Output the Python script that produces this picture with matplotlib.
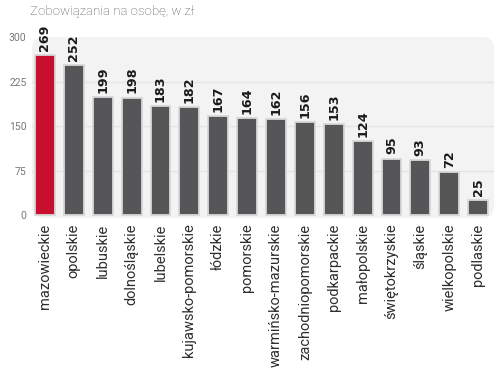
import matplotlib
matplotlib.use("Agg")
import matplotlib.pyplot as plt
from matplotlib.patches import FancyBboxPatch

categories = ["mazowieckie", "opolskie", "lubuskie", "dolnośląskie", "lubelskie",
              "kujawsko-pomorskie", "łódzkie", "pomorskie", "warmińsko-mazurskie",
              "zachodniopomorskie", "podkarpackie", "małopolskie", "świętokrzyskie",
              "śląskie", "wielkopolskie", "podlaskie"]
values = [269, 252, 199, 198, 183, 182, 167, 164, 162, 156, 153, 124, 95, 93, 72, 25]
yticks = [0, 75, 150, 225, 300]
title = "Zobowiązania na osobę, w zł"

W, H = 503, 370
fig = plt.figure(figsize=(W/100, H/100), dpi=100)
L, R, B, T = 32, 494, 218, 37
ax = fig.add_axes([L/W, 1-B/H, (R-L)/W, (B-T)/H])
ax.set_xlim(-0.45, len(values)-0.45)
ax.set_ylim(-5, 300)
ax.patch.set_visible(False)
bg = FancyBboxPatch((0, 0), 1, 1, boxstyle="round,pad=0,rounding_size=0.025",
                    transform=ax.transAxes, facecolor="#f3f3f3", edgecolor="none", zorder=0,
                    mutation_aspect=(R-L)/(B-T))
ax.add_patch(bg)
for y in yticks[1:-1]:
    ax.axhline(y, color="#e4e4e4", lw=1, zorder=1)

colors = ["#c8102e"] + ["#565659"]*(len(values)-1)
x = list(range(len(values)))
ax.bar(x, values, width=0.69, color=colors, edgecolor="#d8d8d8", linewidth=1.3, zorder=2)
for xi, v in zip(x, values):
    ax.annotate(str(v), (xi, v), xytext=(0, 3), textcoords="offset points",
                rotation=90, ha="center", va="bottom", fontsize=9.2, fontweight="bold",
                color="#1a1a1a", clip_on=False, zorder=3)

for s in ax.spines.values():
    s.set_visible(False)
ax.set_yticks(yticks)
ax.set_yticklabels([str(t) for t in yticks], fontsize=7.5, color="#777777",
                   family="Roboto")
ax.tick_params(axis="y", length=0, pad=4)
ax.set_xticks(x)
ax.set_xticklabels(categories, rotation=90, fontsize=10.5, color="#2e2e2e",
                   family="Roboto")
ax.tick_params(axis="x", length=0, pad=4)

fig.text(30/W, 1-12/H, title, fontsize=9.5, color="#555555", va="center", ha="left",
         family="Roboto", fontweight="light")
fig.savefig("out.png", dpi=100)
